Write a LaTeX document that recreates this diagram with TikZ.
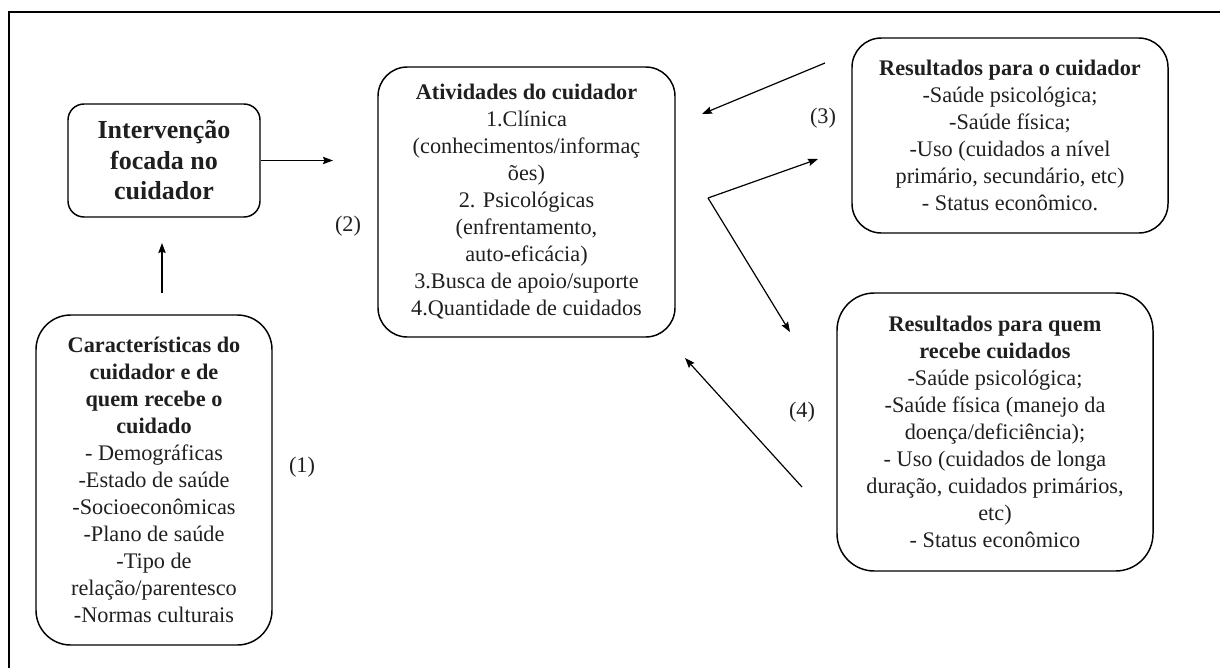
\documentclass[tikz,border=0pt]{standalone}
\usepackage{fontspec}
\setmainfont{Liberation Serif}
\usetikzlibrary{arrows.meta}

\tikzset{
  cbox/.style={draw, line width=1.1pt, rounded corners=22pt, align=center, inner sep=0pt,
    text=black!88, font=\fontsize{16.7}{20.25}\selectfont},
  arr/.style={-{Stealth[length=7.5pt,width=5.5pt,inset=1pt]}, line width=0.9pt},
  numlbl/.style={inner sep=0pt, text=black!88, font=\fontsize{16.7}{20.25}\selectfont}
}

\begin{document}
\begin{tikzpicture}[x=0.75pt,y=0.75pt,yscale=-1,xscale=1]
\useasboundingbox (0,0) rectangle (1220,668);

%Frame (only top and left edges are in view)
\draw [line width=1.5pt] (9,668) -- (9,12) -- (1220,12) ;

%Shape: Rounded Rect [id:interv]
\node (interv) [cbox, rounded corners=12pt, minimum width=144pt, minimum height=84.75pt,
  font=\fontsize{19.5}{22.9}\selectfont\bfseries] at (164,160.5)
  {Intervenção\\focada no\\cuidador};
%Shape: Rounded Rect [id:caract]
\node (caract) [cbox, rounded corners=26pt, minimum width=177pt, minimum height=247.5pt] at (154,480)
  {\textbf{Características do}\\\textbf{cuidador e de}\\\textbf{quem recebe o}\\\textbf{cuidado}\\
   - Demográficas\\-Estado de saúde\\-Socioeconômicas\\-Plano de saúde\\-Tipo de\\
   relação/parentesco\\-Normas culturais};
%Shape: Rounded Rect [id:ativ]
\node (ativ) [cbox, minimum width=222.75pt, minimum height=202.5pt] at (526.5,202)
  {\textbf{Atividades do cuidador}\\1.Clínica\\(conhecimentos/informaç\\ões)\\2. Psicológicas\\
   (enfrentamento,\\auto-eficácia)\\3.Busca de apoio/suporte\\4.Quantidade de cuidados};
%Shape: Rounded Rect [id:rescuid]
\node (rescuid) [cbox, minimum width=237pt, minimum height=146.25pt] at (1010,135.5)
  {\textbf{Resultados para o cuidador}\\-Saúde psicológica;\\-Saúde física;\\-Uso (cuidados a nível\\
   primário, secundário, etc)\\- Status econômico.};
%Shape: Rounded Rect [id:resquem]
\node (resquem) [cbox, rounded corners=28pt, minimum width=237pt, minimum height=208.5pt] at (995,432)
  {\textbf{Resultados para quem}\\\textbf{recebe cuidados}\\-Saúde psicológica;\\-Saúde física (manejo da\\
   doença/deficiência);\\- Uso (cuidados de longa\\duração, cuidados primários,\\etc)\\- Status econômico};

% Text Node
\node (n1) [numlbl] at (302,467) {(1)};
\node (n2) [numlbl] at (348,226) {(2)};
\node (n3) [numlbl] at (823,118) {(3)};
\node (n4) [numlbl] at (802,412) {(4)};

%Arrow ends
\coordinate (c1) at (162,293);
\coordinate (c2) at (162,243);
\coordinate (c3) at (333,160.5);
\coordinate (c4) at (825,63);
\coordinate (c5) at (702,114);
\coordinate (c6) at (708,198);
\coordinate (c7) at (818,159);
\coordinate (c8) at (790,332);
\coordinate (c9) at (802,487);
\coordinate (c10) at (685,358);

%Straight Lines
\draw [arr] (c1) -- (c2) ;
\draw [arr] (interv.east) -- (c3) ;
\draw [arr] (c4) -- (c5) ;
\draw [arr] (c6) -- (c7) ;
\draw [arr] (c6) -- (c8) ;
\draw [arr] (c9) -- (c10) ;

\end{tikzpicture}
\end{document}
